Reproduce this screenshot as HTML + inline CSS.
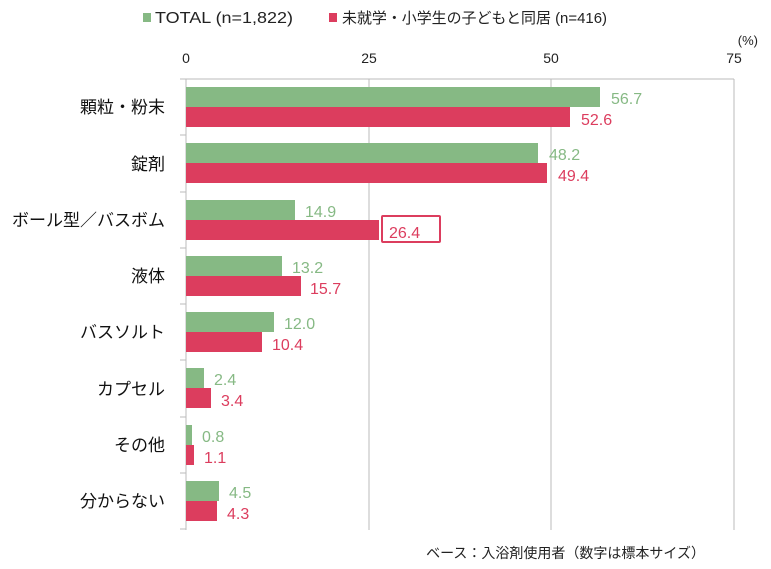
<!DOCTYPE html>
<html><head><meta charset="utf-8"><style>
html,body{margin:0;padding:0;background:#fff;}
svg{display:block;font-family:"Liberation Sans","Noto Sans CJK JP",sans-serif;}
.c{font-size:17px;fill:#111;text-anchor:end}
.g{font-size:16px;fill:#86b984}
.r{font-size:16px;fill:#dc3d5e}
.t{font-size:14px;fill:#222;text-anchor:middle}
</style></head><body>
<svg width="771" height="569" viewBox="0 0 771 569">
<rect x="143" y="13" width="8" height="9" fill="#86b984"/>
<text x="155" y="23" font-size="16" fill="#222" textLength="138" lengthAdjust="spacingAndGlyphs">TOTAL (n=1,822)</text>
<rect x="329" y="13" width="8" height="9" fill="#dc3d5e"/>
<text x="342" y="23" font-size="15" fill="#222" textLength="265" lengthAdjust="spacingAndGlyphs">未就学・小学生の子どもと同居 (n=416)</text>
<text x="758" y="45" font-size="13" fill="#222" text-anchor="end">(%)</text>
<text class="t" x="186" y="63">0</text>
<text class="t" x="369" y="63">25</text>
<text class="t" x="551" y="63">50</text>
<text class="t" x="734" y="63">75</text>
<g stroke="#bbb" stroke-width="1">
<line x1="186" y1="79" x2="734" y2="79"/>
<line x1="369" y1="79" x2="369" y2="530"/>
<line x1="551" y1="79" x2="551" y2="530"/>
<line x1="734" y1="79" x2="734" y2="530"/>
<line x1="186" y1="79" x2="186" y2="530"/>
<line x1="180" y1="79" x2="186" y2="79"/>
<line x1="180" y1="135" x2="186" y2="135"/>
<line x1="180" y1="192" x2="186" y2="192"/>
<line x1="180" y1="248" x2="186" y2="248"/>
<line x1="180" y1="304" x2="186" y2="304"/>
<line x1="180" y1="360" x2="186" y2="360"/>
<line x1="180" y1="417" x2="186" y2="417"/>
<line x1="180" y1="473" x2="186" y2="473"/>
<line x1="180" y1="529" x2="186" y2="529"/>
</g>
<g>
<rect x="186" y="87" width="414" height="20" fill="#86b984"/><rect x="186" y="107" width="384" height="20" fill="#dc3d5e"/>
<rect x="186" y="143" width="352" height="20" fill="#86b984"/><rect x="186" y="163" width="361" height="20" fill="#dc3d5e"/>
<rect x="186" y="200" width="109" height="20" fill="#86b984"/><rect x="186" y="220" width="193" height="20" fill="#dc3d5e"/>
<rect x="186" y="256" width="96" height="20" fill="#86b984"/><rect x="186" y="276" width="115" height="20" fill="#dc3d5e"/>
<rect x="186" y="312" width="88" height="20" fill="#86b984"/><rect x="186" y="332" width="76" height="20" fill="#dc3d5e"/>
<rect x="186" y="368" width="18" height="20" fill="#86b984"/><rect x="186" y="388" width="25" height="20" fill="#dc3d5e"/>
<rect x="186" y="425" width="6" height="20" fill="#86b984"/><rect x="186" y="445" width="8" height="20" fill="#dc3d5e"/>
<rect x="186" y="481" width="33" height="20" fill="#86b984"/><rect x="186" y="501" width="31" height="20" fill="#dc3d5e"/>
</g>
<text class="g" x="611" y="104">56.7</text><text class="r" x="581" y="125">52.6</text>
<text class="g" x="549" y="160">48.2</text><text class="r" x="558" y="181">49.4</text>
<text class="g" x="305" y="217">14.9</text>
<rect x="382" y="216" width="58" height="26" fill="none" stroke="#dc3d5e" stroke-width="2" rx="1"/>
<text class="r" x="389" y="238">26.4</text>
<text class="g" x="292" y="273">13.2</text><text class="r" x="310" y="294">15.7</text>
<text class="g" x="284" y="329">12.0</text><text class="r" x="272" y="350">10.4</text>
<text class="g" x="214" y="385">2.4</text><text class="r" x="221" y="406">3.4</text>
<text class="g" x="202" y="442">0.8</text><text class="r" x="204" y="463">1.1</text>
<text class="g" x="229" y="498">4.5</text><text class="r" x="227" y="519">4.3</text>
<text class="c" x="165" y="113">顆粒・粉末</text>
<text class="c" x="165" y="170">錠剤</text>
<text class="c" x="165" y="226">ボール型／バスボム</text>
<text class="c" x="165" y="282">液体</text>
<text class="c" x="165" y="338">バスソルト</text>
<text class="c" x="165" y="395">カプセル</text>
<text class="c" x="165" y="451">その他</text>
<text class="c" x="165" y="507">分からない</text>
<text x="705" y="558" font-size="14" fill="#222" text-anchor="end">ベース：入浴剤使用者（数字は標本サイズ）</text>
</svg>
</body></html>
